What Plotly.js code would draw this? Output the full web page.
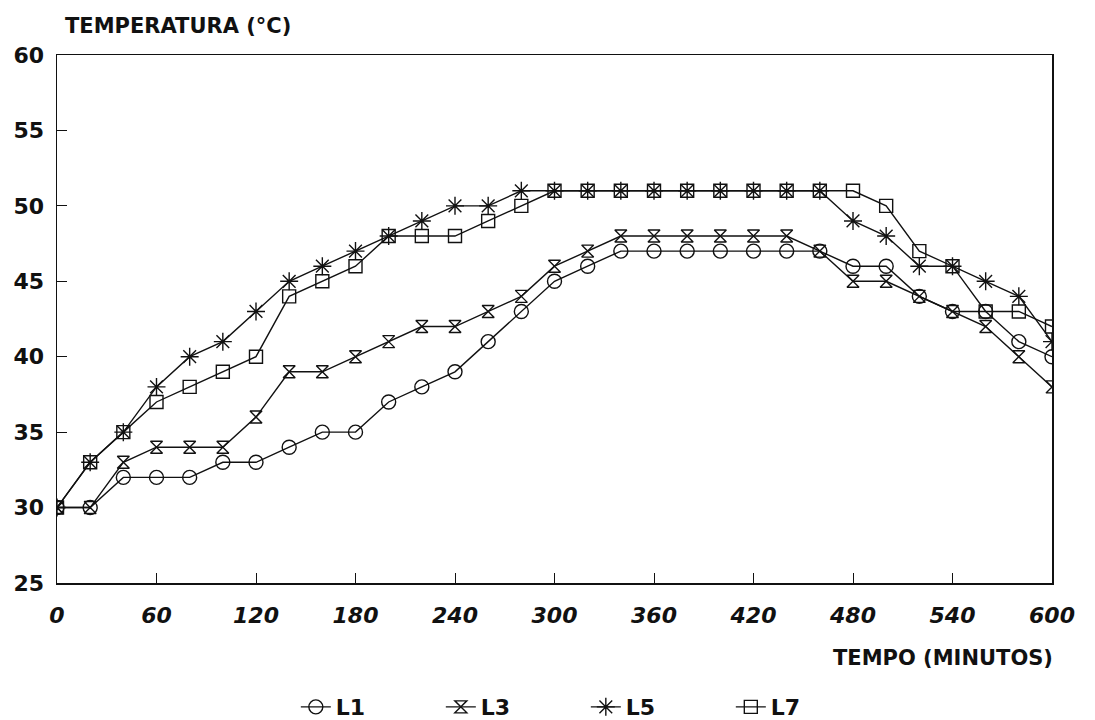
<!DOCTYPE html>
<html>
<head>
<meta charset="utf-8">
<script src="https://cdn.plot.ly/plotly-3.0.1.min.js"></script>
<style>html,body{margin:0;padding:0;background:#fff;}#chart{width:1095px;height:720px;}</style>
</head>
<body>
<div id="chart"></div>
<script>
const tempo = [0,20,40,60,80,100,120,140,160,180,200,220,240,260,280,300,320,340,360,380,400,420,440,460,480,500,520,540,560,580,600];
const L1 = [30,30,32,32,32,33,33,34,35,35,37,38,39,41,43,45,46,47,47,47,47,47,47,47,46,46,44,43,43,41,40];
const L3 = [30,30,33,34,34,34,36,39,39,40,41,42,42,43,44,46,47,48,48,48,48,48,48,47,45,45,44,43,42,40,38];
const L5 = [30,33,35,38,40,41,43,45,46,47,48,49,50,50,51,51,51,51,51,51,51,51,51,51,49,48,46,46,45,44,41];
const L7 = [30,33,35,37,38,39,40,44,45,46,48,48,48,49,50,51,51,51,51,51,51,51,51,51,51,50,47,46,43,43,42];
const xTicks = [0,60,120,180,240,300,360,420,480,540,600];
const yTicks = [25,30,35,40,45,50,55,60];

const ink = '#111';
const fam = 'DejaVu Sans, Liberation Sans, Arial, sans-serif';
function tr(name, y, symbol, size) {
  return {
    x: tempo, y: y, name: name, type: 'scatter', mode: 'lines+markers',
    line: {color: ink, width: 1.4},
    marker: {symbol: symbol, size: size, color: ink, line: {color: ink, width: 1.4}}
  };
}
const data = [
  tr('L1', L1, 'circle-open', 14),
  tr('L3', L3, 'hourglass-open', 12),
  tr('L5', L5, 'asterisk-open', 15),
  tr('L7', L7, 'square-open', 13)
];
const tickFont = {family: fam, size: 22, color: ink, weight: 'bold'};
const layout = {
  width: 1095, height: 720,
  margin: {l: 57, r: 43, t: 55, b: 137, autoexpand: false},
  paper_bgcolor: '#fff', plot_bgcolor: '#fff',
  showlegend: true,
  legend: {orientation: 'h', x: 0.535, xref: 'container', xanchor: 'center',
    y: 0.018, yref: 'container', yanchor: 'middle',
    font: {family: fam, size: 22, color: ink, weight: 'bold'},
    entrywidth: 100, entrywidthmode: 'pixels', traceorder: 'normal'},
  xaxis: {range: [0, 600], tickvals: xTicks, ticks: 'inside', ticklen: 10, tickwidth: 1,
    tickcolor: ink, showline: true, linecolor: ink, linewidth: 1.5, mirror: true,
    showgrid: false, zeroline: false,
    tickfont: Object.assign({}, tickFont, {style: 'italic'}), ticklabelstandoff: 12},
  yaxis: {range: [25, 60], tickvals: yTicks, ticks: 'inside', ticklen: 10, tickwidth: 1,
    tickcolor: ink, showline: true, linecolor: ink, linewidth: 1.5, mirror: true,
    showgrid: false, zeroline: false, tickfont: tickFont, ticklabelstandoff: 7},
  annotations: [
    {text: 'TEMPERATURA (°C)', xref: 'paper', yref: 'paper', x: 0.006, y: 1.0, yshift: 29,
     xanchor: 'left', yanchor: 'middle', showarrow: false,
     font: {family: fam, size: 21, color: ink, weight: 'bold'}},
    {text: 'TEMPO (MINUTOS)', xref: 'paper', yref: 'paper', x: 1.003, y: 0, yshift: -75,
     xanchor: 'right', yanchor: 'middle', showarrow: false,
     font: {family: fam, size: 21, color: ink, weight: 'bold'}}
  ]
};
Plotly.newPlot('chart', data, layout, {staticPlot: true, displayModeBar: false});
</script>
</body>
</html>
